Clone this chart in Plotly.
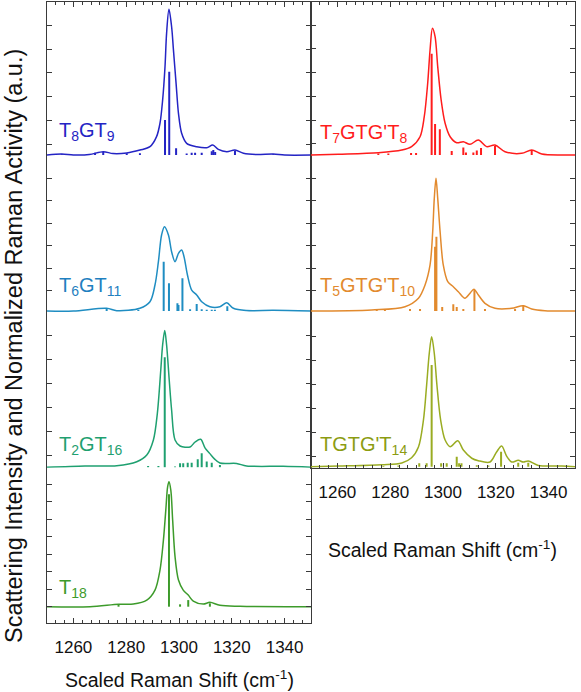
import plotly.graph_objects as go

W, H = 581, 692

# ---------------- data ----------------
# T8GT9 (top-left)
x_T8GT9 = [1250, 1255.6, 1260, 1266, 1271.3, 1275, 1280.2, 1285.2, 1289.0, 1291.5, 1292.8, 1293.8, 1294.7,
           1295.3, 1296.2, 1297.2, 1297.9, 1298.9, 1299.8, 1301.0, 1302.9, 1306.7, 1310.5, 1312.8, 1314.9,
           1318.1, 1321.2, 1324.4, 1329.4, 1335.7, 1340, 1350]
y_T8GT9 = [0, 0.007, 0, 0.003, 0.023, 0.01, 0.014, 0.034, 0.057, 0.126, 0.218, 0.377, 0.606,
           0.835, 1.0, 0.88, 0.72, 0.49, 0.286, 0.149, 0.08, 0.057, 0.05, 0.069, 0.039,
           0.023, 0.034, 0.012, 0.003, 0.007, 0, 0]
sx_T8GT9 = [1255.6, 1268.2, 1271.3, 1280.2, 1285.2, 1294.7, 1296.3, 1298.9, 1302.9, 1304.8, 1306.1,
            1308.6, 1312.4, 1313.0, 1313.7, 1321.2, 1335.7]
sh_T8GT9 = [0.005, 0.015, 0.02, 0.012, 0.012, 0.24, 0.572, 0.046, 0.01, 0.015, 0.015,
            0.015, 0.025, 0.035, 0.02, 0.03, 0.006]

# T6GT11
x_T6GT11 = [1250, 1260, 1272.6, 1276.4, 1285.2, 1289.0, 1290.9, 1292.2, 1293.4, 1294.5, 1296.0, 1297.2,
            1298.5, 1299.8, 1301.0, 1301.9, 1303.2, 1304.8, 1306.7, 1308.6, 1311.7, 1315.5, 1318.1,
            1320.6, 1325.6, 1335.7, 1350]
y_T6GT11 = [0, 0, 0.032, 0.004, 0.032, 0.11, 0.308, 0.585, 0.902, 1.0, 0.902, 0.703,
            0.585, 0.684, 0.724, 0.644, 0.427, 0.249, 0.19, 0.11, 0.051, 0.051, 0.098,
            0.032, 0.006, 0.008, 0]
sx_T6GT11 = [1272.6, 1284.6, 1294.2, 1296.2, 1299.4, 1299.8, 1301.3, 1304.2, 1306.7, 1308.6, 1310.5,
             1312.4, 1313.6, 1318.3]
sh_T6GT11 = [0.035, 0.012, 0.585, 0.329, 0.091, 0.071, 0.388, 0.02, 0.083, 0.02, 0.015,
             0.015, 0.015, 0.056]

# T2GT16
x_T2GT16 = [1250, 1264.4, 1276.4, 1284.0, 1287.8, 1290.3, 1291.8, 1293.1, 1293.8, 1294.6, 1295.3, 1296.3,
            1297.2, 1298.5, 1300.4, 1304.2, 1306.1, 1308.2, 1309.9, 1311.7, 1313.5, 1315.5, 1321.8,
            1325.6, 1339.5, 1350]
y_T2GT16 = [0, 0.01, 0.012, 0.041, 0.09, 0.2, 0.395, 0.712, 0.895, 1.0, 0.895, 0.639,
            0.419, 0.2, 0.156, 0.149, 0.185, 0.205, 0.14, 0.10, 0.06, 0.031, 0.028,
            0.01, 0.007, 0]
sx_T2GT16 = [1288.3, 1292.2, 1294.6, 1298.5, 1300.4, 1301.6, 1303.3, 1304.8, 1307.1, 1308.6, 1310.5,
             1312.4, 1315.5]
sh_T2GT16 = [0.01, 0.01, 0.805, 0.005, 0.029, 0.029, 0.034, 0.034, 0.059, 0.102, 0.042,
             0.034, 0.017]

# T18
x_T18 = [1250, 1266.3, 1277.2, 1282.7, 1287.8, 1290.9, 1292.8, 1294.1, 1295.0, 1295.7, 1296.2, 1296.9,
         1297.6, 1298.5, 1299.8, 1301.6, 1303.5, 1305.4, 1309.2, 1311.7, 1315.5, 1323.1, 1350]
y_T18 = [0, 0, 0.019, 0.021, 0.053, 0.133, 0.293, 0.533, 0.773, 0.96, 1.0, 0.933,
         0.693, 0.4, 0.213, 0.133, 0.093, 0.045, 0.021, 0.035, 0.011, 0.003, 0]
sx_T18 = [1277.1, 1296.2, 1300.4, 1303.5, 1311.7]
sh_T18 = [0.015, 0.90, 0.019, 0.053, 0.027]

# T7GTG'T8 (top-right)
x_T7GTGT8 = [1250, 1260.4, 1275.5, 1284.4, 1288.1, 1291.3, 1292.9, 1294.2, 1295.1, 1296.0, 1297.0, 1298.0,
             1299.3, 1300.8, 1302.7, 1305.2, 1307.7, 1310.2, 1313.4, 1316.5, 1319.7, 1323.5, 1329.8,
             1333.6, 1337.4, 1345, 1350]
y_T7GTGT8 = [0, 0.006, 0.018, 0.039, 0.066, 0.144, 0.302, 0.566, 0.829, 1.0, 0.934, 0.697,
             0.434, 0.25, 0.144, 0.097, 0.105, 0.084, 0.118, 0.066, 0.079, 0.026, 0.013,
             0.039, 0.008, 0, 0]
sx_T7GTGT8 = [1275.5, 1279.3, 1287.9, 1289.8, 1295.7, 1297.0, 1298.8, 1303.3, 1307.7, 1308.7, 1311.5,
              1312.8, 1314.4, 1319.7, 1333.6]
sh_T7GTGT8 = [0.012, 0.012, 0.016, 0.016, 0.80, 0.245, 0.203, 0.032, 0.059, 0.02, 0.02,
              0.036, 0.055, 0.071, 0.04]

# T5GTG'T10
x_T5GTGT10 = [1250, 1273.0, 1285.6, 1290.7, 1293.2, 1295.1, 1296.1, 1296.7, 1297.35, 1298.0, 1298.9,
              1300.1, 1301.8, 1303.9, 1305.8, 1308.3, 1310.2, 1311.7, 1313.4, 1315.9, 1319.7, 1326.0,
              1330.4, 1333.6, 1338.6, 1350]
y_T5GTGT10 = [0, 0.008, 0.032, 0.096, 0.196, 0.347, 0.598, 0.849, 1.0, 0.849, 0.598,
              0.347, 0.221, 0.183, 0.145, 0.096, 0.133, 0.164, 0.121, 0.058, 0.02, 0.02,
              0.04, 0.015, 0.002, 0]
sx_T5GTGT10 = [1274.9, 1278.0, 1287.5, 1291.3, 1297.0, 1297.5, 1299.7, 1303.9, 1305.2, 1307.7, 1311.9,
               1315.9, 1327.3, 1330.4]
sh_T5GTGT10 = [0.008, 0.008, 0.015, 0.015, 0.485, 0.56, 0.03, 0.05, 0.03, 0.015, 0.158,
               0.015, 0.015, 0.045]

# TGTG'T14
x_TGTGT14 = [1250, 1260.4, 1276.8, 1284.4, 1288.1, 1290.7, 1292.6, 1293.8, 1294.8, 1295.7, 1296.7, 1297.7,
             1299.1, 1300.8, 1302.7, 1305.6, 1307.7, 1310.9, 1313.4, 1317.8, 1320.3, 1322.2, 1324.1,
             1326.0, 1328.5, 1330.4, 1332.3, 1336.1, 1345.0, 1350]
y_TGTGT14 = [0, 0.005, 0.015, 0.028, 0.069, 0.152, 0.36, 0.628, 0.872, 1.0, 0.872, 0.628,
             0.36, 0.205, 0.154, 0.2, 0.128, 0.065, 0.046, 0.036, 0.113, 0.159, 0.082,
             0.036, 0.049, 0.036, 0.044, 0.01, 0.005, 0]
sx_TGTGT14 = [1277.4, 1283.1, 1291.0, 1293.8, 1295.7, 1299.3, 1301.4, 1305.2, 1306.1, 1307.0, 1312.8,
              1317.2, 1322.0, 1328.5, 1332.3]
sh_TGTGT14 = [0.006, 0.01, 0.026, 0.026, 0.782, 0.026, 0.026, 0.077, 0.026, 0.026, 0.012,
              0.01, 0.115, 0.031, 0.031]

names = ["T<sub>8</sub>GT<sub>9</sub>", "T<sub>6</sub>GT<sub>11</sub>", "T<sub>2</sub>GT<sub>16</sub>",
         "T<sub>18</sub>", "T<sub>7</sub>GTG'T<sub>8</sub>", "T<sub>5</sub>GTG'T<sub>10</sub>",
         "TGTG'T<sub>14</sub>"]
x_tick_vals = [1260, 1280, 1300, 1320, 1340]
x_tick_text = ["1260", "1280", "1300", "1320", "1340"]
x_title = "Scaled Raman Shift (cm<sup>-1</sup>)"
y_title = "Scattering Intensity and Normalized Raman Activity (a.u.)"

series = [
    (x_T8GT9, y_T8GT9, sx_T8GT9, sh_T8GT9),
    (x_T6GT11, y_T6GT11, sx_T6GT11, sh_T6GT11),
    (x_T2GT16, y_T2GT16, sx_T2GT16, sh_T2GT16),
    (x_T18, y_T18, sx_T18, sh_T18),
    (x_T7GTGT8, y_T7GTGT8, sx_T7GTGT8, sh_T7GTGT8),
    (x_T5GTGT10, y_T5GTGT10, sx_T5GTGT10, sh_T5GTGT10),
    (x_TGTGT14, y_TGTGT14, sx_TGTGT14, sh_TGTGT14),
]

# ---------------- styling / geometry ----------------
line_colors = ["#2424c4", "#1f8dc2", "#1fa070", "#3d9b2b", "#ff1c1c", "#e28a2e", "#9aac22"]
label_colors = ["#2424c4", "#1f80c0", "#1fa070", "#3d9b2b", "#ff1c1c", "#e28a2e", "#8c9c12"]

def px_y(p):
    return 1 - p / H

def px_x(p):
    return p / W

XL = [px_x(47), px_x(311)]
XR = [px_x(311), px_x(575)]
bounds = [2, 157.25, 312.5, 467.75, 623]
# panel geometry: (xdomain, ydomain, yrange, tick0, dtick, role)
panels = [
    (XL, [px_y(bounds[1]), px_y(bounds[0])], [-0.0154, 1.0501], 0.0755, 0.1627, "top"),
    (XL, [px_y(bounds[2]), px_y(bounds[1])], [-0.0178, 1.8238], 0.2408, 0.2669, "mid"),
    (XL, [px_y(bounds[3]), px_y(bounds[2])], [-0.0033, 1.1324], 0.0827, 0.1756, "mid"),
    (XL, [px_y(bounds[4]), px_y(bounds[3])], [-0.1304, 1.1116], 0.0, 0.14, "bottom"),
    (XR, [px_y(bounds[1]), px_y(bounds[0])], [-0.0178, 1.2076], 0.0892, 0.187, "top"),
    (XR, [px_y(bounds[2]), px_y(bounds[1])], [-0.0113, 1.1586], 0.153, 0.1696, "mid"),
    (XR, [px_y(bounds[3]), px_y(bounds[2])], [-0.0081, 1.1862], 0.0823, 0.1846, "bottom"),
]
label_pos = [(57, 131), (57, 286), (57, 445), (57, 588), (318, 133), (318, 286), (318, 445)]

FONT = "Liberation Sans, Arial, sans-serif"
AX = "#3a3a3a"

fig = go.Figure()
layout = dict(
    width=W, height=H, margin=dict(l=0, r=0, t=0, b=0, autoexpand=False),
    paper_bgcolor="white", plot_bgcolor="rgba(0,0,0,0)",
    showlegend=False, font=dict(family=FONT, color="#111", size=17),
)
annotations = []

for i, ((xs, ys, sx, sh), (xd, yd, yr, t0, dt, role)) in enumerate(zip(series, panels)):
    n = i + 1
    xa = "x" if n == 1 else f"x{n}"
    ya = "y" if n == 1 else f"y{n}"
    col = line_colors[i]
    # sticks
    stx, sty = [], []
    for a, h in zip(sx, sh):
        stx += [a, a, None]
        sty += [0, h, None]
    fig.add_trace(go.Scatter(x=stx, y=sty, mode="lines", xaxis=xa, yaxis=ya,
                             line=dict(color=col, width=2), hoverinfo="skip"))
    fig.add_trace(go.Scatter(x=xs, y=ys, mode="lines", xaxis=xa, yaxis=ya,
                             line=dict(color=col, width=1.5, shape="spline", smoothing=0.9)))
    xkey = "xaxis" if n == 1 else f"xaxis{n}"
    ykey = "yaxis" if n == 1 else f"yaxis{n}"
    xaxis = dict(domain=xd, range=[1250, 1350], anchor=ya, showgrid=False, zeroline=False,
                 linecolor=AX, linewidth=1, tickcolor=AX, fixedrange=True)
    if role == "top":
        xaxis.update(side="top", showline=True, ticks="inside", ticklen=5, tickvals=x_tick_vals,
                     showticklabels=False,
                     minor=dict(dtick=20 / 6, tick0=1260, ticks="inside", ticklen=3, tickcolor=AX))
    elif role == "bottom":
        xaxis.update(side="bottom", showline=True, ticks="inside", ticklen=5, tickvals=x_tick_vals,
                     ticktext=x_tick_text, showticklabels=True, ticklabelstandoff=9,
                     tickfont=dict(size=17, family=FONT, color="#111"),
                     minor=dict(dtick=20 / 6, tick0=1260, ticks="inside", ticklen=3, tickcolor=AX))
    else:
        xaxis.update(showline=False, ticks="", showticklabels=False)
    yaxis = dict(domain=yd, range=yr, anchor=xa, showgrid=False, zeroline=False, showline=True,
                 mirror="ticks", linecolor=AX, linewidth=1, ticks="inside", ticklen=5,
                 tickcolor=AX, tick0=t0, dtick=dt, showticklabels=False, fixedrange=True)
    layout[xkey] = xaxis
    layout[ykey] = yaxis
    lx, ly = label_pos[i]
    annotations.append(dict(text=names[i], x=px_x(lx), y=px_y(ly), xref="paper", yref="paper",
                            xanchor="left", yanchor="middle", showarrow=False,
                            font=dict(size=20, color=label_colors[i], family=FONT)))

# axis titles
annotations.append(dict(text=x_title, x=px_x(179), y=px_y(679), xref="paper", yref="paper",
                        xanchor="center", yanchor="middle", showarrow=False,
                        font=dict(size=19.5, family=FONT, color="#111")))
annotations.append(dict(text=x_title, x=px_x(443), y=px_y(549), xref="paper", yref="paper",
                        xanchor="center", yanchor="middle", showarrow=False,
                        font=dict(size=19.5, family=FONT, color="#111")))
annotations.append(dict(text=y_title, x=px_x(14), y=px_y(346), xref="paper", yref="paper",
                        xanchor="center", yanchor="middle", showarrow=False, textangle=-90,
                        font=dict(size=23.5, family=FONT, color="#111")))
layout["annotations"] = annotations
fig.update_layout(**layout)
fig.write_html("out.html", config={"displayModeBar": False},
               post_script="document.body.style.margin='0px';")
